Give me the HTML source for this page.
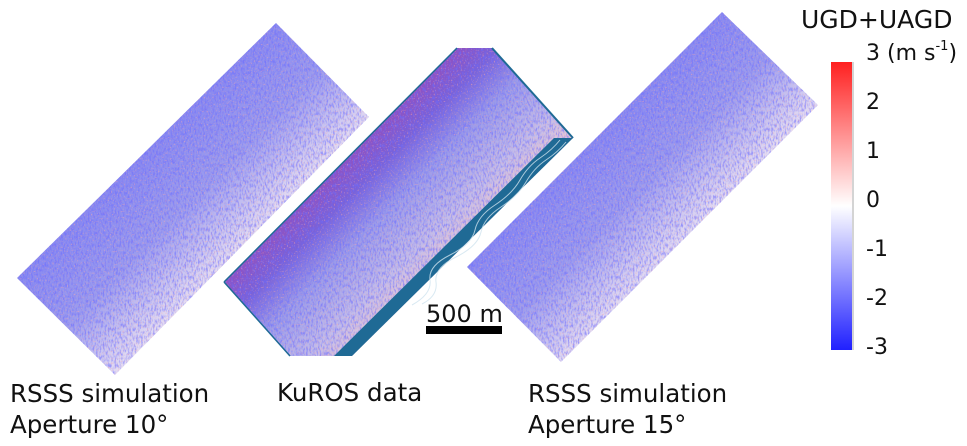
<!DOCTYPE html>
<html><head><meta charset="utf-8"><style>
html,body{margin:0;padding:0;background:#fff;width:967px;height:446px;overflow:hidden}
svg{display:block}
text{font-family:"DejaVu Sans","Liberation Sans",sans-serif;fill:#111}
</style></head><body>
<svg width="967" height="446" viewBox="0 0 967 446">
<defs>
<filter id="n" x="0" y="0" width="967" height="446" filterUnits="userSpaceOnUse">
<feTurbulence type="fractalNoise" baseFrequency="0.6 0.25" numOctaves="2" seed="3" result="t"/>
<feColorMatrix in="t" type="matrix" values="0 0 0 0 0.15  0 0 0 0 0.15  0 0 0 0 1  0 0 0 3 -1.3"/>
</filter>
<filter id="r" x="0" y="0" width="967" height="446" filterUnits="userSpaceOnUse">
<feTurbulence type="fractalNoise" baseFrequency="0.7" numOctaves="1" seed="11"/>
<feColorMatrix type="matrix" values="0 0 0 0 1  0 0 0 0 0.4  0 0 0 0 0.4  0 0 0 4 -2.3"/>
</filter>
<clipPath id="c"><polygon points="276,23 369,117 115,375 17,278"/><polygon points="722,12 818,105 561,362 467,267"/><polygon points="457,48 492,48 573,138 352,356 290,356 224,282"/></clipPath>
<linearGradient id="gl" gradientUnits="userSpaceOnUse" x1="146" y1="150" x2="242" y2="246">
<stop offset="0" stop-color="#8a8af0"/><stop offset="0.5" stop-color="#9c9cee"/><stop offset="1" stop-color="#e4dcf2"/>
</linearGradient>
<linearGradient id="gr" gradientUnits="userSpaceOnUse" x1="594" y1="140" x2="690" y2="234">
<stop offset="0" stop-color="#8a8af0"/><stop offset="0.5" stop-color="#9c9cee"/><stop offset="1" stop-color="#e4dcf2"/>
</linearGradient>
<linearGradient id="gk" gradientUnits="userSpaceOnUse" x1="340" y1="165" x2="442" y2="267">
<stop offset="0" stop-color="#9050c0"/><stop offset="0.2" stop-color="#7a62d8"/><stop offset="0.45" stop-color="#9a9aea"/><stop offset="0.8" stop-color="#c4bdea"/><stop offset="1" stop-color="#e8c8d4"/>
</linearGradient>
<linearGradient id="cb" x1="0" y1="0" x2="0" y2="1">
<stop offset="0" stop-color="#ff2020"/><stop offset="0.5" stop-color="#ffffff"/><stop offset="1" stop-color="#2020ff"/>
</linearGradient>
</defs>
<polygon points="276,23 369,117 115,375 17,278" fill="url(#gl)"/>
<polygon points="722,12 818,105 561,362 467,267" fill="url(#gr)"/>
<polygon points="457,48 492,48 573,138 352,356 290,356 224,282" fill="url(#gk)"/>
<g clip-path="url(#c)">
<rect width="967" height="446" filter="url(#n)" opacity="0.6"/>
<rect width="967" height="446" filter="url(#r)" opacity="0.6"/>
</g>
<polygon points="573,138 352,356 334,356 554,138" fill="#1f6a95"/>
<path d="M560,140 q-8,10 -20,18 t-20,22 t-25,25 t-20,25 t-25,25 t-20,25 t-18,25 M566,142 q-8,10 -20,18 t-20,22 t-25,25 t-20,25 t-25,25 t-20,25 t-14,22" stroke="#cfe3ef" stroke-width="1" fill="none" opacity="0.8"/>
<line x1="492" y1="48" x2="573" y2="138" stroke="#1f6a95" stroke-width="2"/>
<line x1="224" y1="282" x2="290" y2="356" stroke="#1f6a95" stroke-width="1.5"/>
<line x1="224" y1="282" x2="457" y2="48" stroke="#1f6a95" stroke-width="1.5"/>
<rect x="831" y="62" width="21" height="288" fill="url(#cb)"/>
<line x1="853" y1="62" x2="853" y2="350" stroke="#aaa" stroke-width="1"/>
<text x="801" y="28" font-size="25">UGD+UAGD</text>
<text x="866" y="60" font-size="22">3 (m s<tspan font-size="13" dy="-10">-1</tspan><tspan dy="10">)</tspan></text>
<g font-size="22">
<text x="866" y="109">2</text>
<text x="866" y="158">1</text>
<text x="866" y="207">0</text>
<text x="866" y="256">-1</text>
<text x="866" y="305">-2</text>
<text x="866" y="354">-3</text>
</g>
<text x="426" y="322" font-size="24">500 m</text>
<rect x="426" y="326" width="76" height="8" fill="#000"/>
<g font-size="24.5">
<text x="10" y="402">RSSS simulation</text>
<text x="10" y="433">Aperture 10°</text>
<text x="277" y="401">KuROS data</text>
<text x="528" y="402">RSSS simulation</text>
<text x="528" y="433">Aperture 15°</text>
</g>
</svg>
</body></html>
